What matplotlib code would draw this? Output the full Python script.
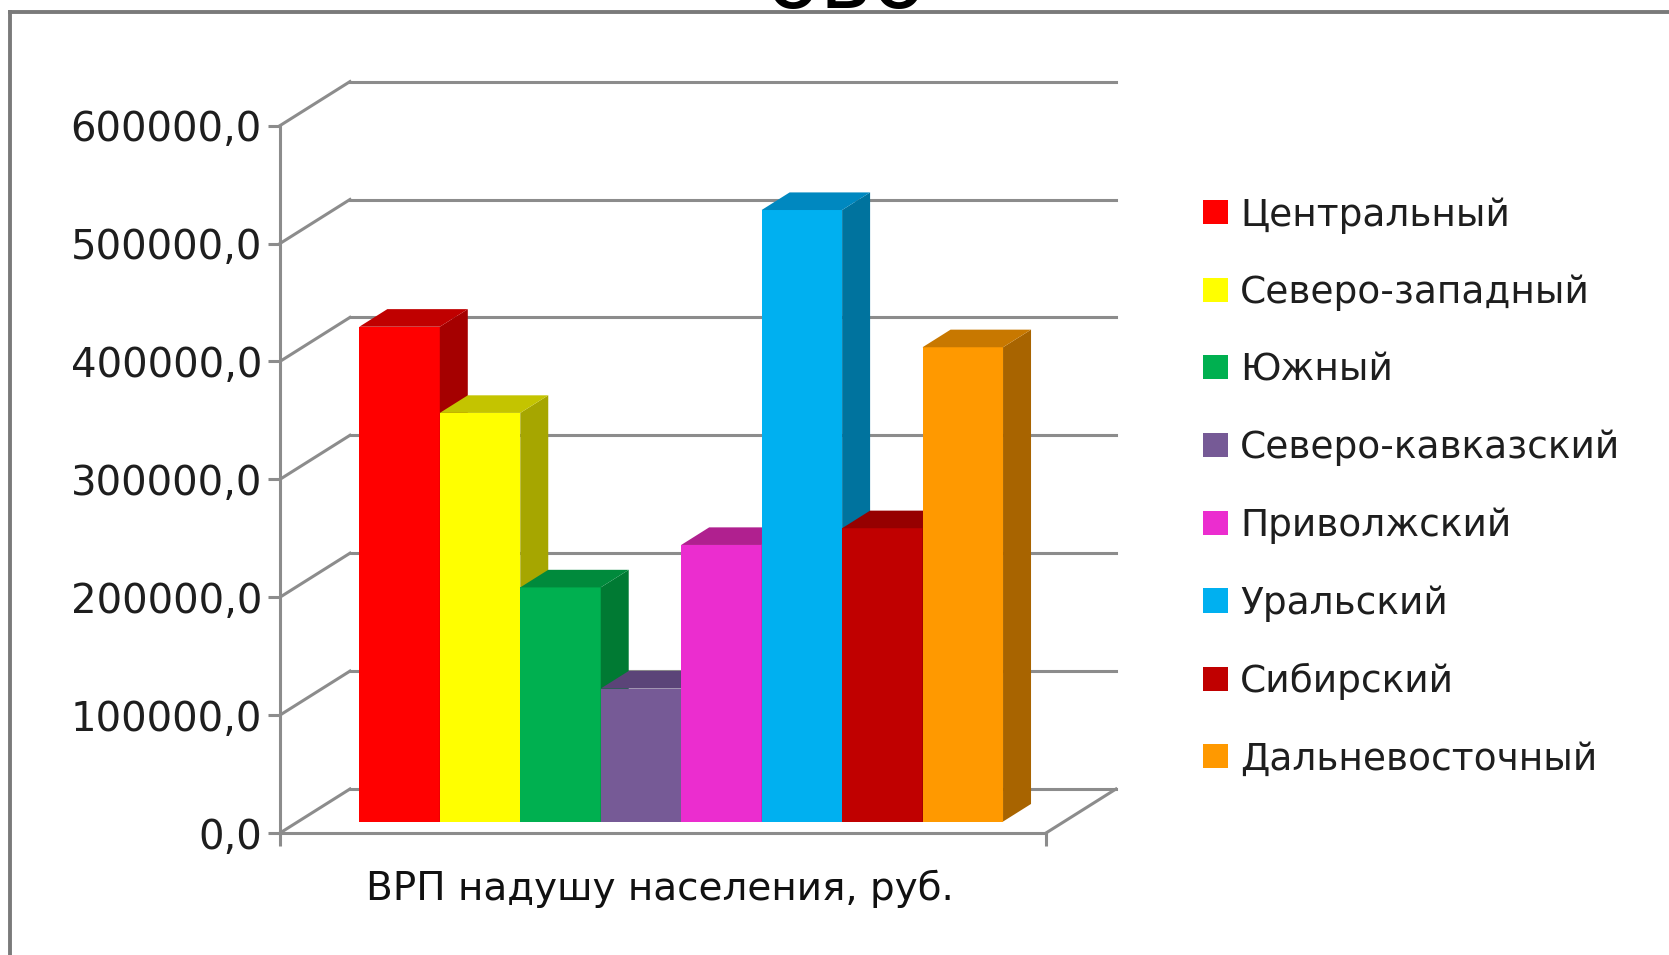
import numpy as np
import matplotlib.pyplot as plt
from matplotlib.patches import Patch
from matplotlib.lines import Line2D

# Данные: ВРП на душу населения по федеральным округам, руб.
okruga = ['Центральный', 'Северо-западный', 'Южный', 'Северо-кавказский',
          'Приволжский', 'Уральский', 'Сибирский', 'Дальневосточный']
vrp = [419700, 346600, 198600, 112800, 234600, 518700, 248800, 402300]
yticks = [0, 100000, 200000, 300000, 400000, 500000, 600000]
xlabel = 'ВРП надушу населения, руб.'

c_front = ['#FF0000', '#FFFF00', '#00B050', '#765A96', '#EB2DCF', '#00B0F0', '#C00000', '#FF9900']
c_side = ['#A50000', '#A6A600', '#007A33', '#4B3A62', '#9A1E88', '#00739E', '#800000', '#A86400']
c_top = ['#C00000', '#C4C400', '#008A3C', '#5B4478', '#B0208F', '#0088C0', '#960000', '#C87800']
grey = '#8C8C8C'

w, h = 16.69, 9.55
fig = plt.figure(figsize=(w, h), dpi=100)
ax = fig.add_axes([280/1669, 122/955, 766/1669, 707.4/955])

n = len(vrp)
gap = 0.76
xmax = n + 2*gap
ax.set_xlim(0, xmax); ax.set_ylim(0, 600000)

# глубина "3D" в единицах данных
ddx = 70/80.5
ddy = 44*600000/707.4
f_front, f_depth = 0.26, 0.40

# задняя стенка и пол
for v in yticks:
    ax.plot([0, ddx], [v, v+ddy], '-', color=grey, lw=2.2, clip_on=False, zorder=1)
    ax.plot([ddx, xmax+ddx], [v+ddy, v+ddy], '-', color=grey, lw=2.2, clip_on=False, zorder=1)
ax.plot([xmax, xmax+ddx], [0, ddy], '-', color=grey, lw=2.2, clip_on=False, zorder=1)

# столбцы: передняя грань, боковая и верхняя
x0 = gap + np.arange(n) + f_front*ddx
base = f_front*ddy
sx, sy = f_depth*ddx, f_depth*ddy
bars = ax.bar(x0, vrp, width=1, bottom=base, align='edge', color=c_front, linewidth=0, clip_on=False)
for i, (b, v) in enumerate(zip(bars, vrp)):
    b.set_zorder(10+3*i)
    xl, xr, top = x0[i], x0[i]+1, base+v
    ax.fill([xr, xr+sx, xr+sx, xr], [base, base+sy, top+sy, top], color=c_side[i], lw=0, zorder=11+3*i, clip_on=False)
    ax.fill([xl, xl+sx, xr+sx, xr], [top, top+sy, top+sy, top], color=c_top[i], lw=0, zorder=12+3*i, clip_on=False)

for s in ['top', 'right']:
    ax.spines[s].set_visible(False)
for s in ['left', 'bottom']:
    ax.spines[s].set_color(grey); ax.spines[s].set_linewidth(2.2)
ax.set_yticks(yticks)
ax.set_yticklabels([f'{v:.1f}'.replace('.', ',') for v in yticks])
ax.set_xticks([0, xmax]); ax.set_xticklabels(['', ''])
ax.tick_params(axis='both', direction='out', length=9, width=2.2, color=grey, pad=4,
               labelsize=29, labelcolor='#1E1E1E')
ax.patch.set_visible(False)

fig.text(660/1669, 1-889/955, xlabel, ha='center', va='center', fontsize=28,
         family=['Liberation Sans Narrow', 'DejaVu Sans'], color='#111111')

# обрезанный заголовок сверху
fig.text(846/1669, 1-8/955, 'ово', ha='center', va='baseline', fontsize=64, color='black')

# рамка
fig.add_artist(Line2D([10/1669, 10/1669], [0, 1-12/955], color='#7A7A7A', lw=2.8, transform=fig.transFigure))
fig.add_artist(Line2D([10/1669, 1], [1-12/955, 1-12/955], color='#7A7A7A', lw=2.8, transform=fig.transFigure))

handles = [Patch(facecolor=c, edgecolor='none', label=l) for c, l in zip(c_front, okruga)]
fig.legend(handles=handles, loc='upper left', bbox_to_anchor=(1203/1669, 1-197/955),
           frameon=False, fontsize=27, handlelength=0.67, handleheight=0.62,
           handletextpad=0.32, labelspacing=1.1, borderpad=0, borderaxespad=0,
           labelcolor='#1E1E1E')

fig.savefig('out.png', dpi=100)
